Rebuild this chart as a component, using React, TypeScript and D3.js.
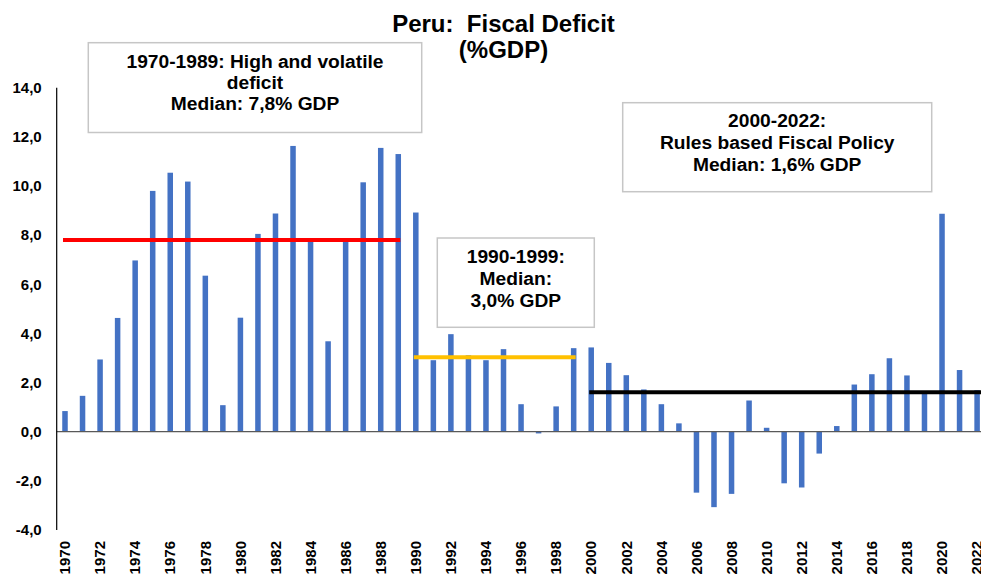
import React from "react";
import * as d3 from "d3";

const years: number[] = [];
for (let y = 1970; y <= 2022; y++) years.push(y);

const deficit: number[] = [
  0.84, 1.46, 2.94, 4.63, 6.97, 9.8, 10.54, 10.18, 6.35, 1.08,
  4.64, 8.05, 8.88, 11.63, 7.78, 3.68, 7.75, 10.15, 11.55, 11.3,
  8.92, 2.91, 3.97, 3.11, 2.91, 3.36, 1.12, -0.07, 1.03, 3.4,
  3.43, 2.8, 2.3, 1.72, 1.12, 0.34, -2.48, -3.07, -2.53, 1.27,
  0.16, -2.1, -2.27, -0.89, 0.23, 1.92, 2.34, 2.99, 2.29, 1.58,
  8.87, 2.51, 1.69,
];

const yTicks: number[] = [-4, -2, 0, 2, 4, 6, 8, 10, 12, 14];
const xTickYears: number[] = years.filter((y) => (y - 1970) % 2 === 0);

const medianPeriods = [
  { from: 1970, to: 1989, value: 7.8, color: "#FF0000" },
  { from: 1990, to: 1999, value: 3.03, color: "#FFC000" },
  { from: 2000, to: 2022, value: 1.61, color: "#000000", toEdge: true },
];

const titleLines = ["Peru:  Fiscal Deficit", "(%GDP)"];

const boxes = [
  { x0: 88.3, y0: 42.7, x1: 421.7, y1: 132.5, lines: ["1970-1989: High and volatile", "deficit", "Median: 7,8% GDP"], baselines: [68.3, 89.3, 109.5] },
  { x0: 437.3, y0: 238, x1: 594.3, y1: 327.3, lines: ["1990-1999:", "Median:", "3,0% GDP"], baselines: [263.3, 285, 306.7] },
  { x0: 622.7, y0: 102.7, x1: 931.7, y1: 191.7, lines: ["2000-2022:", "Rules based Fiscal Policy", "Median: 1,6% GDP"], baselines: [127.3, 149, 170.7] },
];

const W = 981;
const H = 576;
const FONT = "'Liberation Sans', Arial, Helvetica, sans-serif";

export default function App() {
  const axisX = 56.7;
  const x = d3
    .scaleBand<number>()
    .domain(years)
    .range([axisX, axisX + 928.7])
    .paddingInner(0.686)
    .paddingOuter(0.316);
  const y = d3.scaleLinear().domain([-4, 14]).range([530.0, 87.7]);
  const cx = (yr: number) => (x(yr) as number) + x.bandwidth() / 2;
  const fmt = (v: number) => d3.format(".1f")(v).replace(".", ",").replace("−", "-");

  return (
    <svg
      width={W}
      height={H}
      style={{ position: "fixed", left: 0, top: 0, background: "#fff" }}
      fontFamily={FONT}
    >
      <rect x={0} y={0} width={W} height={H} fill="#fff" />
      {/* title */}
      {titleLines.map((t, i) => (
        <text
          key={i}
          x={503.5}
          y={i === 0 ? 31.7 : 57.5}
          textAnchor="middle"
          fontSize={24}
          fontWeight="bold"
          style={{ whiteSpace: "pre" }}
        >
          {t}
        </text>
      ))}

      {/* bars */}
      {years.map((yr, i) => {
        const v = deficit[i];
        const y0 = y(Math.max(0, v));
        const h = Math.abs(y(v) - y(0));
        return (
          <rect
            key={yr}
            x={x(yr)}
            y={y0}
            width={x.bandwidth()}
            height={Math.max(h, 0.8)}
            fill="#4472C4"
          />
        );
      })}

      {/* zero line */}
      <line x1={axisX} x2={W} y1={y(0)} y2={y(0)} stroke="#595959" strokeWidth={1.2} />
      {/* y axis */}
      <line x1={axisX} x2={axisX} y1={y(14)} y2={y(-4)} stroke="#000" strokeWidth={1.2} />

      {/* y tick labels */}
      {yTicks.map((t) => (
        <text
          key={t}
          x={41.7}
          y={y(t)}
          dy="0.35em"
          textAnchor="end"
          fontSize={15}
          fontWeight="bold"
        >
          {fmt(t)}
        </text>
      ))}

      {/* x tick labels */}
      {xTickYears.map((yr) => (
        <text
          key={yr}
          transform={`translate(${cx(yr)},541) rotate(-90)`}
          dy="0.35em"
          textAnchor="end"
          fontSize={15}
          fontWeight="bold"
        >
          {yr}
        </text>
      ))}

      {/* median lines */}
      {medianPeriods.map((m, i) => (
        <line
          key={i}
          x1={cx(m.from)}
          x2={m.toEdge ? W + 5 : cx(m.to)}
          y1={y(m.value)}
          y2={y(m.value)}
          stroke={m.color}
          strokeWidth={4}
          strokeLinecap="square"
        />
      ))}

      {/* annotation boxes */}
      {boxes.map((b, i) => (
        <g key={i}>
          <rect
            x={b.x0}
            y={b.y0}
            width={b.x1 - b.x0}
            height={b.y1 - b.y0}
            fill="#fff"
            stroke="#c6c6c6"
            strokeWidth={1.5}
          />
          {b.lines.map((l, j) => (
            <text
              key={j}
              x={(b.x0 + b.x1) / 2}
              y={b.baselines[j]}
              textAnchor="middle"
              fontSize={19.2}
              fontWeight="bold"
            >
              {l}
            </text>
          ))}
        </g>
      ))}
    </svg>
  );
}
